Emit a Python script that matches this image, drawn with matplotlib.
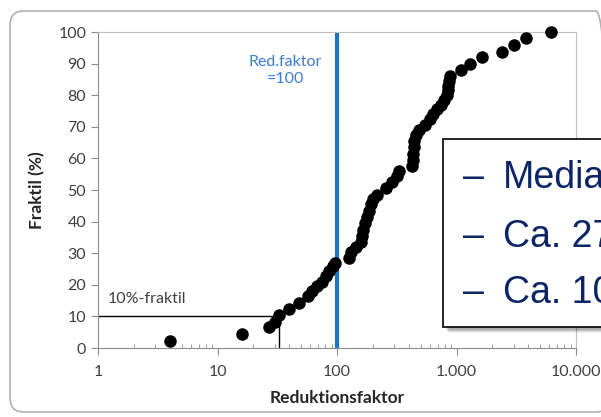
import matplotlib
matplotlib.use("Agg")
import matplotlib.pyplot as plt
from matplotlib.patches import FancyBboxPatch, Rectangle
from matplotlib.ticker import FixedLocator, FuncFormatter, LogLocator, NullFormatter
from matplotlib.transforms import IdentityTransform

# reduction factor per sample and its fractile (%)
red_factor = [4, 16, 27, 30, 33, 40, 48, 57, 62, 68, 75, 81, 86, 92, 96,
              125, 132, 145, 158, 163, 165, 170, 178, 185, 192, 200, 215,
              255, 290, 315, 330,
              425, 430, 435, 440, 445, 455, 490, 540, 600, 640, 690, 740,
              790, 830, 845, 855, 865, 880,
              1100, 1300, 1650, 2400, 3050, 3850, 6200]
fraktil = [2.2, 4.4, 6.5, 8.3, 10.3, 12.5, 14.3, 16.5, 18.0, 19.5, 21.0, 22.8, 24.3, 26.0, 27.0,
           28.5, 30.5, 32.0, 33.5, 35.5, 37.5, 39.5, 41.5, 43.5, 45.5, 47.0, 48.5,
           50.5, 52.5, 54.5, 56.0,
           57.5, 59.5, 61.5, 63.5, 65.5, 67.5, 69.0, 70.5, 72.5, 74.0, 75.5, 77.0,
           78.5, 80.0, 81.5, 83.0, 84.5, 86.0,
           88.0, 90.0, 92.0, 93.7, 96.0, 98.0, 100.0]

red_line = 100          # Red.faktor = 100
frak10_x = 33           # 10%-fraktil reduction factor
frak10_y = 10

x_ticks = [1, 10, 100, 1000, 10000]
y_ticks = list(range(0, 101, 10))
box_lines = [("–", "Media"), ("–", "Ca. 27"), ("–", "Ca. 10")]

W, H = 601, 417
fig = plt.figure(figsize=(W / 100, H / 100), dpi=100)

# rounded outer frame (pixel coords)
fig.patches.append(FancyBboxPatch((10, 5), 600, 401, boxstyle="round,pad=0,rounding_size=14",
                                  transform=IdentityTransform(), fill=False,
                                  edgecolor="#b0b0b0", linewidth=1.2))

ax = fig.add_axes([98 / W, 1 - 348 / H, (576 - 98) / W, (348 - 32) / H])
ax.set_xscale("log")
ax.set_xlim(1, 10000)
ax.set_ylim(0, 100)

ax.axvline(red_line, color="#1b75cc", linewidth=3, zorder=2)
ax.plot([1, frak10_x], [frak10_y, frak10_y], color="black", linewidth=1, zorder=2)
ax.plot([frak10_x, frak10_x], [0, frak10_y], color="black", linewidth=1, zorder=2)
ax.scatter(red_factor, fraktil, s=64, color="black", zorder=3, clip_on=False)

ax.text(37, 87.7, "Red.faktor\n=100", color="#3f7bd6", ha="center", va="center",
        fontsize=11.5, family="Lato", linespacing=1.25)
ax.text(1.2, 13.3, "10%-fraktil", color="#404040", ha="left", va="bottom",
        fontsize=11.5, family="Lato")

for s in ["left", "bottom"]:
    ax.spines[s].set_color("#8c8c8c")
for s in ["top", "right"]:
    ax.spines[s].set_color("#c0c0c0")

ax.xaxis.set_major_locator(FixedLocator(x_ticks))
ax.xaxis.set_major_formatter(FuncFormatter(lambda v, p: f"{int(round(v)):,}".replace(",", ".")))
ax.xaxis.set_minor_locator(LogLocator(base=10, subs=range(2, 10)))
ax.xaxis.set_minor_formatter(NullFormatter())
ax.set_yticks(y_ticks)
ax.tick_params(axis="both", which="major", direction="out", length=5, color="#8c8c8c",
               labelsize=11.5, labelcolor="#404040")
ax.tick_params(axis="x", which="minor", direction="in", length=3, color="#8c8c8c")
ax.tick_params(axis="x", which="major", pad=7)
for lab in ax.get_xticklabels() + ax.get_yticklabels():
    lab.set_family("Lato")

ax.set_xlabel("Reduktionsfaktor", fontsize=12.5, fontweight="bold", family="Lato",
              color="#262626", labelpad=8)
ax.set_ylabel("Fraktil (%)", fontsize=12.5, fontweight="bold", family="Lato",
              color="#262626", labelpad=9)

# overlapping slide text box with soft shadow
bx, by, bw, bh = 443, H - 327, 220, 188
for i, a in enumerate([0.06, 0.08, 0.10, 0.12]):
    off = 6 - i
    fig.patches.append(Rectangle((bx + off, by - off), bw, bh, transform=IdentityTransform(),
                                 facecolor="black", alpha=a, edgecolor="none", zorder=5))
fig.patches.append(Rectangle((bx, by), bw, bh, transform=IdentityTransform(),
                             facecolor="white", edgecolor="black", linewidth=1.2, zorder=6))
for (dash, txt), base in zip(box_lines, [188, 247, 303]):
    fig.text(463 / W, 1 - base / H, dash, color="#0b2566", fontsize=27,
             family="Liberation Sans", va="baseline", zorder=7)
    fig.text(503 / W, 1 - base / H, txt, color="#0b2566", fontsize=27,
             family="Liberation Sans", va="baseline", zorder=7)

fig.savefig("out.png", dpi=100)
